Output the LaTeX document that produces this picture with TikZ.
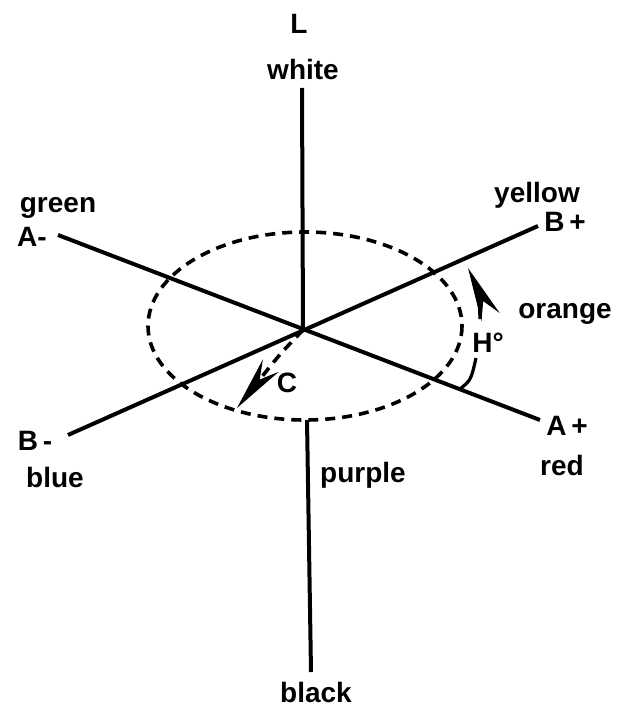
\documentclass[tikz,border=0pt]{standalone}
\usepackage{fontspec}
\setmainfont{Liberation Sans}
\usetikzlibrary{arrows.meta}

\tikzset{
  axis/.style={line width=2pt},
  ring/.style={line width=1.8pt, dash pattern=on 5pt off 3.5pt},
  hue/.style={line width=1.6pt},
  headtip/.style={-{Stealth[length=27pt, width=10pt]}},
  lbl/.style={font=\fontsize{14}{16}\selectfont\bfseries, inner sep=0pt, anchor=base},
}

\begin{document}
\begin{tikzpicture}[x=0.5pt, y=-0.5pt]
    \useasboundingbox (0,0) rectangle (619,716);

    % ends of the axes
    \coordinate (O) at (303,330);
    \coordinate (Lt) at (302,88);
    \coordinate (Eb) at (307,420);
    \coordinate (Bk) at (311,672);
    \coordinate (Am) at (58,235);
    \coordinate (Ap) at (540,420);
    \coordinate (Bm) at (68,435);
    \coordinate (Bp) at (538,226);

    \draw[axis] (Lt) -- (O);
    \draw[axis] (Eb) -- (Bk);
    \draw[axis] (Am) -- (Ap);
    \draw[axis] (Bm) -- (Bp);

    \draw[ring] (305,326) ellipse [x radius=157, y radius=94];

    % chroma
    \coordinate (Ct) at (237,408);
    \draw[ring, headtip] (O) .. controls (280,354) .. (Ct);

    % hue angle
    \coordinate (Ha) at (460,389);
    \coordinate (Hb) at (476,358);
    \coordinate (Hc) at (480,319);
    \coordinate (Hd) at (468,268);
    \draw[hue] (Ha) .. controls (471,380) .. (Hb);
    \draw[hue, headtip] (Hc) .. controls (479,292) .. (Hd);

    \node[lbl] (L) at (299,34) {L};
    \node[lbl] (white) at (303,80) {white};
    \node[lbl] (black) at (316,702) {black};
    \node[lbl] (purple) at (363,482) {purple};
    \node[lbl] (green) at (58,213) {green};
    \node[lbl] (Aminus) at (32,247) {A-};
    \node[lbl] (yellow) at (537,203) {yellow};
    \node[lbl] (Bplus) at (565,232) {B\,+};
    \node[lbl] (orange) at (565,318) {orange};
    \node[lbl] (Hdeg) at (488,352) {H°};
    \node[lbl] (Aplus) at (567,435) {A\,+};
    \node[lbl] (red) at (562,475) {red};
    \node[lbl] (Bminus) at (35,450) {B\,-};
    \node[lbl] (blue) at (55,487) {blue};
    \node[lbl] (C) at (287,392) {C};
\end{tikzpicture}
\end{document}
